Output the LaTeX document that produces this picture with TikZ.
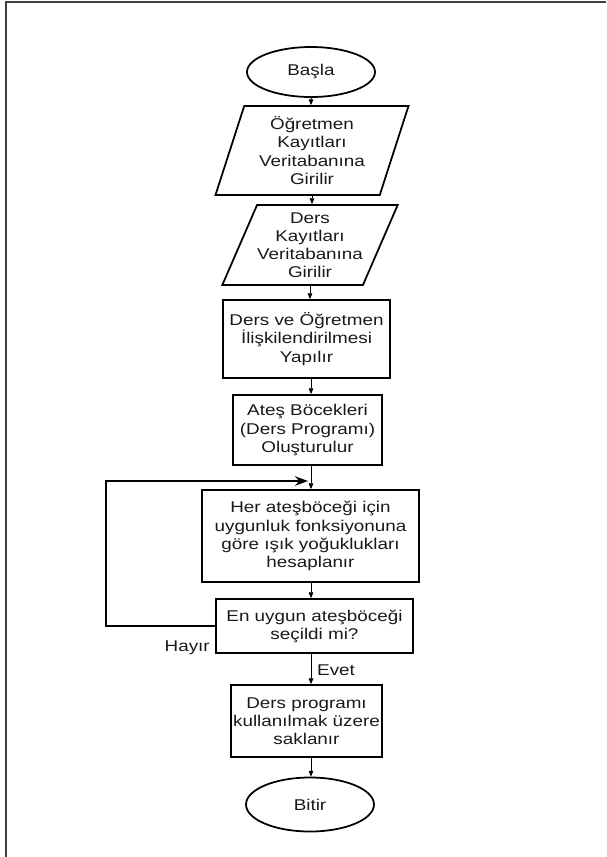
\documentclass[tikz,border=0pt]{standalone}
\usepackage{fontspec}
\setmainfont[FakeStretch=1.21]{Liberation Sans}
\usetikzlibrary{shapes.geometric,arrows.meta,calc}

\begin{document}
\begin{tikzpicture}[x=0.03cm,y=-0.03cm]
		\tikzset{
		    startstop/.style={ellipse,draw,line width=1.5pt,inner sep=0pt,minimum width=3.84cm,minimum height=1.5cm},
		    io/.style={trapezium,trapezium stretches body,draw,line width=1.5pt,inner sep=0pt,align=center},
		    process/.style={rectangle,draw,line width=1.5pt,inner sep=0pt,align=center},
		    edge/.style={-{Triangle[length=5pt,width=4pt]},line width=0.6pt},
		    loopedge/.style={-{Stealth[length=11pt,width=8pt]},line width=2pt},
		    lbl/.style={inner sep=0pt},
		    every node/.style={font=\fontsize{13.3}{15.5}\selectfont,text=black!90}
		}
		\useasboundingbox (0,0) rectangle (606,857);
		\draw[black!75,line width=0.9pt] (6,857) -- (6,2) -- (606,2);

		% vertices
		\node[startstop] (basla) at (311,72) {Başla};
		\node[io,trapezium left angle=67,trapezium right angle=113,minimum width=5.79cm,minimum height=2.67cm] (ogretmen) at (312,150.5) {Öğretmen\\Kayıtları\\Veritabanına\\Girilir};
		\node[io,trapezium left angle=62,trapezium right angle=118,minimum width=4.83cm,minimum height=2.4cm] (ders) at (310,245) {Ders\\Kayıtları\\Veritabanına\\Girilir};
		\node[process,minimum width=5.01cm,minimum height=2.34cm] (iliski) at (306.5,339) {Ders ve Öğretmen\\İlişkilendirilmesi\\Yapılır};
		\node[process,minimum width=4.47cm,minimum height=2.1cm] (bocek) at (307.5,430) {Ateş Böcekleri\\(Ders Programı)\\Oluşturulur};
		\node[process,minimum width=6.51cm,minimum height=2.76cm] (isik) at (310.5,536) {Her ateşböceği için\\uygunluk fonksiyonuna\\göre ışık yoğuklukları\\hesaplanır};
		\node[process,minimum width=5.91cm,minimum height=1.62cm] (secim) at (314.5,626) {En uygun ateşböceği\\seçildi mi?};
		\node[process,minimum width=4.53cm,minimum height=2.16cm] (sakla) at (306.5,721) {Ders programı\\kullanılmak üzere\\saklanır};
		\node[startstop,minimum height=1.62cm] (bitir) at (310,804.5) {Bitir};
		\node[lbl,anchor=east] (hayir) at (210,648) {Hayır};
		\node[lbl,anchor=west] (evet) at (317,670) {Evet};
		\coordinate (donus) at (106,481);

		%edges
		\draw[edge] (basla.south) -- (basla.south |- ogretmen.north);
		\draw[edge] (ogretmen.south) -- (ogretmen.south |- ders.north);
		\draw[edge] (ders.south) -- (ders.south |- iliski.north);
		\draw[edge] (basla.south |- iliski.south) -- (basla.south |- bocek.north);
		\draw[edge] (basla.south |- bocek.south) -- (basla.south |- isik.north);
		\draw[edge] (basla.south |- isik.south) -- (basla.south |- secim.north);
		\draw[edge] (basla.south |- secim.south) -- (basla.south |- sakla.north);
		\draw[edge] (basla.south |- sakla.south) -- (basla.south |- bitir.north);
		\draw[loopedge] (secim.west) -| (donus) -- ($(donus -| basla.south)+(-3,0)$);

	\end{tikzpicture}
\end{document}
